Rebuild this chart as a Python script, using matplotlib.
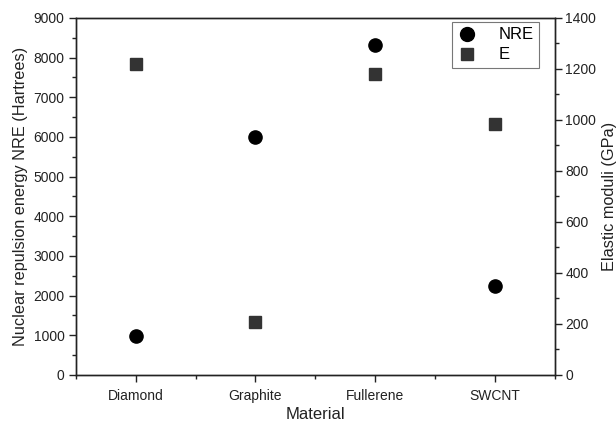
import matplotlib
matplotlib.use("Agg")
import matplotlib.pyplot as plt
from matplotlib.ticker import MultipleLocator
from matplotlib.lines import Line2D

plt.rcParams['font.family'] = ['Liberation Sans', 'DejaVu Sans']

materials = ["Diamond", "Graphite", "Fullerene", "SWCNT"]
nre = [990, 6000, 8320, 2250]
emod = [1220, 208, 1180, 985]

fig = plt.figure(figsize=(6.16, 4.24), dpi=100)
ax = fig.add_axes([0.123, 0.1156, 0.778, 0.842])
ax2 = ax.twinx()

x = list(range(1, len(materials) + 1))
ax.plot(x, nre, 'o', color='black', markersize=9.5, linestyle='none', zorder=3)
ax2.plot(x, emod, 's', color='#333333', markersize=8.5, linestyle='none', zorder=3)

ax.set_xlim(0.5, 4.5)
ax.set_ylim(0, 9000)
ax2.set_ylim(0, 1400)
ax.set_xticks(x)
ax.set_xticklabels(materials)
ax.xaxis.set_minor_locator(MultipleLocator(0.5))
ax.yaxis.set_major_locator(MultipleLocator(1000))
ax.yaxis.set_minor_locator(MultipleLocator(500))
ax2.yaxis.set_major_locator(MultipleLocator(200))
ax2.yaxis.set_minor_locator(MultipleLocator(100))

for a in (ax, ax2):
    for s in a.spines.values():
        s.set_color('#222222')
        s.set_linewidth(1.0)
    a.tick_params(which='major', length=5, width=1.0, color='#222222',
                  labelsize=10, labelcolor='#222222', direction='out', pad=3)
    a.tick_params(which='minor', length=3, width=1.0, color='#222222', direction='out')
ax2.tick_params(axis='y', which='major', pad=2.5)
ax.tick_params(axis='x', which='major', pad=5)

ax.set_xlabel("Material", fontsize=12, color='#222222', labelpad=3)
ax.set_ylabel("Nuclear repulsion energy NRE (Hartrees)", fontsize=11.7, color='#222222', labelpad=4)
ax2.set_ylabel("Elastic moduli (GPa)", fontsize=11.7, color='#222222', labelpad=4)

handles = [Line2D([], [], marker='o', color='black', linestyle='none', markersize=10),
           Line2D([], [], marker='s', color='#333333', linestyle='none', markersize=9)]
leg = ax2.legend(handles, ["NRE", "E"], loc='upper right', bbox_to_anchor=(0.967, 0.99),
                 borderaxespad=0.0,
                 fontsize=12, frameon=True, fancybox=False, edgecolor='#555555',
                 handlelength=1.0, handletextpad=1.4, borderpad=0.35, labelspacing=0.3)
leg.get_frame().set_linewidth(0.8)

fig.savefig("out.png", dpi=100)
